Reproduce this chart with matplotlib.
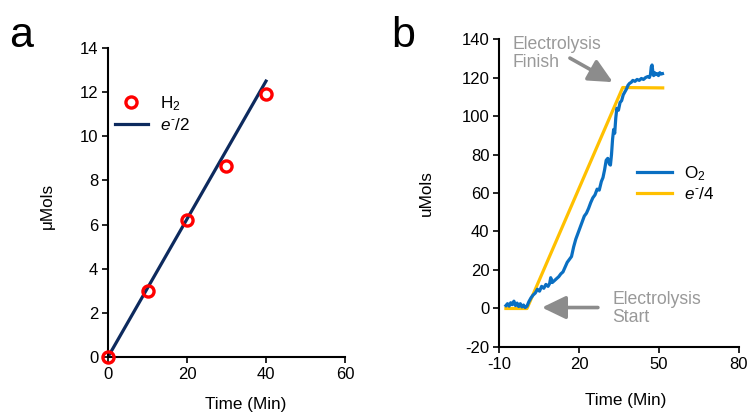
import matplotlib
matplotlib.use("Agg")
import matplotlib.pyplot as plt

plt.rcParams['font.family'] = ['Liberation Sans', 'DejaVu Sans']
plt.rcParams['mathtext.fontset'] = 'custom'
plt.rcParams['mathtext.rm'] = 'Liberation Sans'
plt.rcParams['mathtext.it'] = 'Liberation Sans:italic'
plt.rcParams['axes.unicode_minus'] = False

# Panel a data
h2_time = [0, 10, 20, 30, 40]
h2_umol = [0, 3.0, 6.2, 8.65, 11.9]
e2_time = [0, 40]
e2_umol = [0, 12.5]

# Panel b data
e4_time = [-7.4, 0.5, 36.4, 51.4]
e4_umol = [0, 0, 114.8, 114.6]
o2_time = [-7.4, -6.8, -6.2, -5.6, -5.0, -4.4, -3.8, -3.2, -2.6, -2.0, -1.4, -0.8, -0.2, 0.5,
           1.2, 2.0, 2.8, 3.6, 4.4, 5.2, 6.0, 6.8, 7.6, 8.4, 9.0, 9.4, 10.0, 10.8, 11.6, 12.4,
           13.2, 14.0, 14.8, 15.6, 16.4, 17.2, 18.0, 18.8, 19.6, 20.4, 21.2, 22.0, 22.8, 23.6,
           24.4, 25.2, 26.0, 26.8, 27.6, 28.4, 29.0, 29.6, 30.2, 30.8, 31.4, 31.8, 32.2, 32.6,
           33.0, 33.4, 33.8, 34.2, 34.8, 35.4, 36.0, 36.6, 37.2, 37.8, 38.4, 39.0, 39.6, 40.2,
           41.0, 41.8, 42.6, 43.4, 44.2, 45.0, 45.8, 46.4, 46.8, 47.1, 47.4, 47.7, 48.0, 48.4,
           48.8, 49.3, 49.8, 50.3, 50.8, 51.3]
o2_umol = [1.5, 2.5, 1.2, 3.0, 2.0, 3.8, 1.5, 2.8, 1.0, 2.5, 0.8, 1.8, 0.5, 1.2,
           3.5, 5.5, 7.0, 8.0, 10.0, 9.0, 11.5, 10.5, 12.5, 11.5, 13.0, 16.0, 13.5, 14.5, 15.5, 16.5,
           18.0, 19.0, 21.5, 24.0, 25.5, 27.0, 32.0, 36.0, 39.0, 42.0, 45.0, 48.0, 49.5, 52.0,
           55.0, 57.5, 59.0, 62.0, 61.5, 66.0, 68.0, 72.0, 77.0, 78.0, 75.0, 74.5, 80.0, 88.0,
           93.0, 91.0, 99.0, 104.0, 103.0, 107.0, 108.0, 111.0, 112.5, 114.0, 116.0, 117.0, 117.5, 118.5,
           118.0, 119.0, 118.5, 119.5, 119.0, 120.0, 120.5, 120.0, 121.5, 125.5, 126.5, 123.0, 121.0, 122.5,
           121.5, 122.0, 121.0, 122.5, 121.8, 122.0]

FS = 12.3

fig = plt.figure(figsize=(7.5, 4.12), dpi=100)

axa = fig.add_axes([0.144, 0.1335, 0.316, 0.75])
axb = fig.add_axes([0.6653, 0.1578, 0.32, 0.7475])

for ax in (axa, axb):
    for s in ('top', 'right'):
        ax.spines[s].set_visible(False)
    for s in ('left', 'bottom'):
        ax.spines[s].set_linewidth(1.5)
        ax.spines[s].set_color('black')
    ax.tick_params(direction='out', length=4, width=1.2, labelsize=12, colors='black', pad=3)

# Panel a
axa.plot(e2_time, e2_umol, color='#0d2a5e', lw=2.3, label=r'$e^{\text{-}}$/2', zorder=2)
axa.plot(h2_time, h2_umol, ls='none', marker='o', ms=8, mfc='none', mec='#ff0000', mew=2.4,
         label=r'H$_2$', clip_on=False, zorder=3)
axa.set_xlim(0, 60)
axa.set_ylim(0, 14)
axa.set_xticks([0, 20, 40, 60])
axa.set_yticks(range(0, 15, 2))
axa.set_xlabel('Time (Min)', fontsize=FS, va='top')
axa.set_ylabel('μMols', fontsize=FS)
axa.xaxis.set_label_coords(0.582, -0.13)
axa.yaxis.set_label_coords(-0.224, 0.49)
h, l = axa.get_legend_handles_labels()
axa.legend(h[::-1], l[::-1], loc='upper left', bbox_to_anchor=(0.03, 0.851), frameon=False,
           fontsize=FS, handlelength=1.9, handletextpad=0.75, labelspacing=0.25,
           borderpad=0, borderaxespad=0)
fig.text(0.012, 0.885, 'a', fontsize=31)

# Panel b
axb.plot(o2_time, o2_umol, color='#0a6fc2', lw=2.3, label=r'O$_2$', zorder=3)
axb.plot(e4_time, e4_umol, color='#ffc000', lw=2.3, label=r'$e^{\text{-}}$/4', zorder=2)
axb.set_xlim(-10, 80)
axb.set_ylim(-20, 140)
axb.set_xticks([-10, 20, 50, 80])
axb.set_yticks(range(-20, 141, 20))
axb.set_xlabel('Time (Min)', fontsize=FS, va='top')
axb.set_ylabel('uMols', fontsize=FS)
axb.xaxis.set_label_coords(0.529, -0.15)
axb.yaxis.set_label_coords(-0.27, 0.5)
axb.legend(loc='upper left', bbox_to_anchor=(0.575, 0.594), frameon=False,
           fontsize=FS, handlelength=2.05, handletextpad=0.7, labelspacing=0.18,
           borderpad=0, borderaxespad=0)

gray = '#8c8c8c'
tgray = '#999999'
astyle = '-|>,head_width=0.7,head_length=1.45'
axb.annotate('', xy=(32.7, 117.6), xytext=(16.6, 130.1),
             arrowprops=dict(arrowstyle=astyle, color=gray, lw=2.6, mutation_scale=10,
                             shrinkA=0, shrinkB=0))
axb.text(-4.75, 132.5, 'Electrolysis\nFinish', color=tgray, fontsize=12.7, va='center', ha='left',
         linespacing=1.1)
axb.annotate('', xy=(6.1, 0.5), xytext=(27.1, 0.5),
             arrowprops=dict(arrowstyle=astyle, color=gray, lw=2.6, mutation_scale=10,
                             shrinkA=0, shrinkB=0))
axb.text(32.4, 0, 'Electrolysis\nStart', color=tgray, fontsize=12.7, va='center', ha='left',
         linespacing=1.1)
fig.text(0.522, 0.885, 'b', fontsize=31)

fig.savefig('out.png', dpi=100)
